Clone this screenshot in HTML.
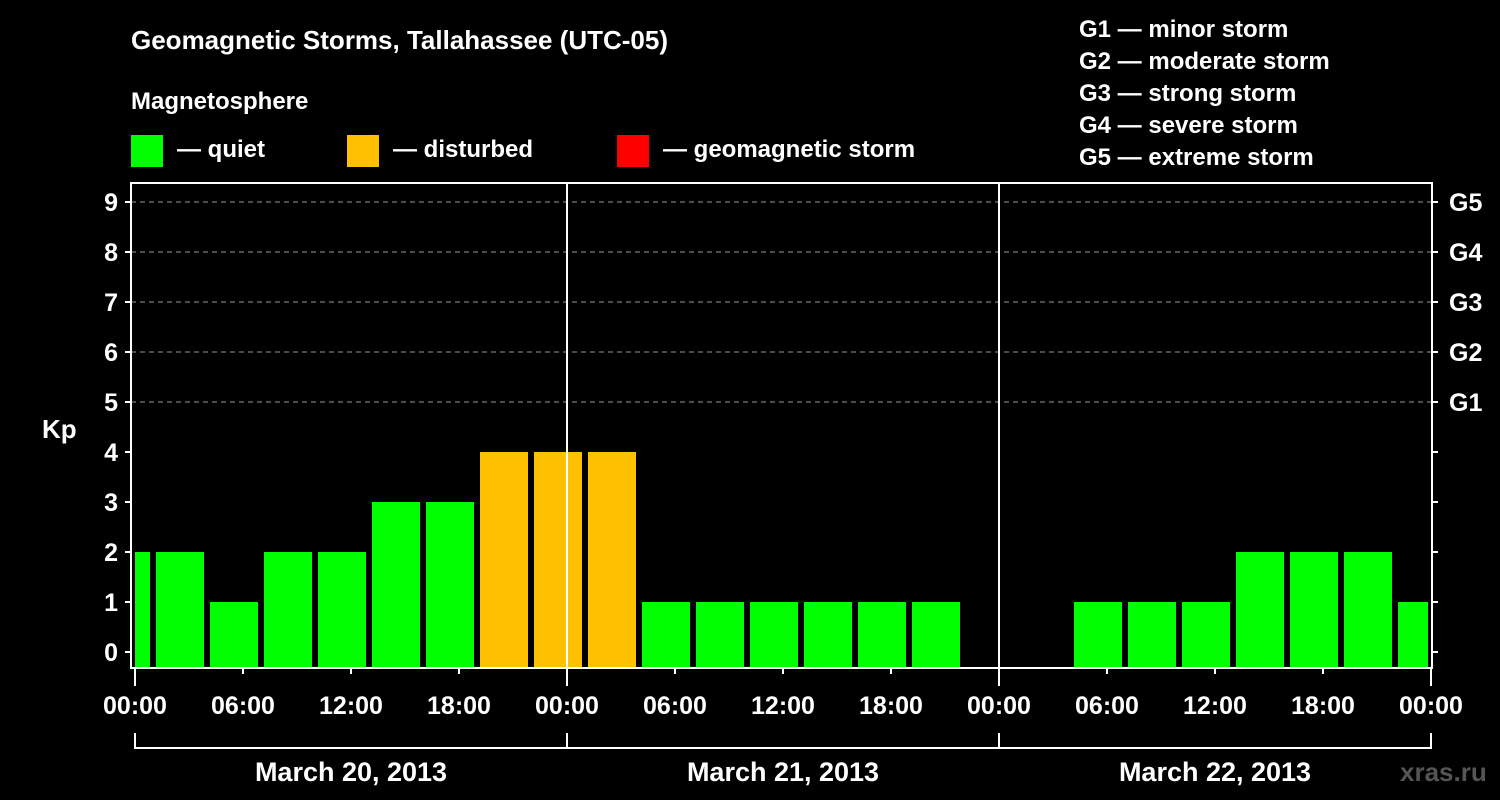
<!DOCTYPE html>
<html><head><meta charset="utf-8"><style>
html,body{margin:0;padding:0;background:#000;}
svg{display:block;font-family:"Liberation Sans",Arial,sans-serif;font-weight:bold;}
</style></head><body>
<svg id="chart" width="1500" height="800" viewBox="0 0 1500 800">
<rect x="0" y="0" width="1500" height="800" fill="#000"/>
<text x="131" y="49" fill="#fff" font-size="26">Geomagnetic Storms, Tallahassee (UTC-05)</text>
<text x="131" y="109" fill="#fff" font-size="24">Magnetosphere</text>
<g><rect x="131" y="135" width="32" height="32" fill="#00ff00"/><text x="177" y="157" fill="#fff" font-size="24">— quiet</text></g>
<g><rect x="347" y="135" width="32" height="32" fill="#ffc000"/><text x="393" y="157" fill="#fff" font-size="24">— disturbed</text></g>
<g><rect x="617" y="135" width="32" height="32" fill="#ff0000"/><text x="663" y="157" fill="#fff" font-size="24">— geomagnetic storm</text></g>
<g fill="#fff" font-size="24">
<text x="1079" y="37">G1 — minor storm</text>
<text x="1079" y="69">G2 — moderate storm</text>
<text x="1079" y="101">G3 — strong storm</text>
<text x="1079" y="133">G4 — severe storm</text>
<text x="1079" y="165">G5 — extreme storm</text>
</g>
<text x="42" y="438" fill="#fff" font-size="26">Kp</text>
<text x="1400" y="781" fill="#555" font-size="26">xras.ru</text>
<g id="grid"></g><g id="bars"></g><g id="axes"></g>
</svg>
<script>
const startHours = [-2,1,4,7,10,13,16,19,22,25,28,31,34,37,40,43,46,49,52,55,58,61,64,67,70];
const kpValues = [2,2,1,2,2,3,3,4,4,4,1,1,1,1,1,1,null,null,1,1,1,2,2,2,1];
const yTicks = [0,1,2,3,4,5,6,7,8,9];
const gLabels = ["G1","G2","G3","G4","G5"];
const xTickLabels = ["00:00","06:00","12:00","18:00","00:00","06:00","12:00","18:00","00:00","06:00","12:00","18:00","00:00"];
const dayLabels = ["March 20, 2013","March 21, 2013","March 22, 2013"];
const NS="http://www.w3.org/2000/svg";
const X0=135, HPX=18, PL=131, PR=1432, PT=183, PB=668;
const xs=h=>X0+h*HPX, ys=v=>652-v*50;
function mk(t,a,p){const e=document.createElementNS(NS,t);for(const k in a)e.setAttribute(k,a[k]);p.appendChild(e);return e;}
const grid=document.getElementById('grid'),bars=document.getElementById('bars'),axes=document.getElementById('axes');
for(let i=5;i<=9;i++){const l=mk('line',{x1:PL,x2:PR,y1:ys(i),y2:ys(i),stroke:'#999','stroke-width':1,'stroke-dasharray':'5,4'},grid);

}
startHours.forEach((h,i)=>{const v=kpValues[i];if(v==null)return;
let x1=Math.max(xs(h)+3,X0),x2=Math.min(xs(h+3)-3,PR-4);
const c=v>=5?'#ff0000':(v>=4?'#ffc000':'#00ff00');
const r=mk('rect',{x:x1,y:ys(v),width:x2-x1,height:PB-ys(v),fill:c},bars);

});
const box=mk('rect',{x:PL,y:PT,width:PR-PL,height:PB-PT,fill:'none',stroke:'#fff','stroke-width':2},axes);


[1,2].forEach(d=>{const l=mk('line',{x1:xs(24*d),x2:xs(24*d),y1:PT,y2:PB,stroke:'#fff','stroke-width':2},axes);

});
yTicks.forEach(v=>{mk('line',{x1:PL-6,x2:PL,y1:ys(v),y2:ys(v),stroke:'#fff','stroke-width':2},axes);
mk('line',{x1:PR,x2:PR+6,y1:ys(v),y2:ys(v),stroke:'#fff','stroke-width':2},axes);
const t=mk('text',{x:PL-13,y:ys(v)+9,fill:'#fff','font-size':25,'text-anchor':'end'},axes);t.textContent=v;

});
gLabels.forEach((g,i)=>{const t=mk('text',{x:1449,y:ys(5+i)+9,fill:'#fff','font-size':25},axes);t.textContent=g;

});
xTickLabels.forEach((s,i)=>{const x=xs(i*6);mk('line',{x1:x,x2:x,y1:PB,y2:PB+(i%4==0?18:6),stroke:'#fff','stroke-width':2},axes);
const t=mk('text',{x:x,y:714,fill:'#fff','font-size':25,'text-anchor':'middle'},axes);t.textContent=s;

});
mk('line',{x1:X0,x2:xs(72),y1:748,y2:748,stroke:'#fff','stroke-width':2},axes);
for(let d=0;d<=3;d++)mk('line',{x1:xs(24*d),x2:xs(24*d),y1:733,y2:749,stroke:'#fff','stroke-width':2},axes);
dayLabels.forEach((s,i)=>{const t=mk('text',{x:xs(24*i+12),y:781,fill:'#fff','font-size':27,'text-anchor':'middle'},axes);t.textContent=s;

});
</script>
</body></html>
